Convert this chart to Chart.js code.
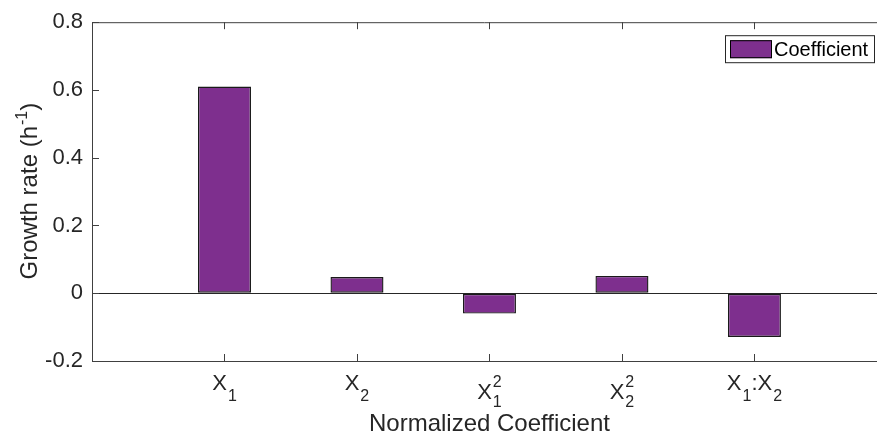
<!DOCTYPE html>
<html lang="en">
<head>
    <meta charset="UTF-8">
    <title>Normalized Coefficient</title>
    <script src="https://cdn.jsdelivr.net/npm/chart.js"></script>
    <style>
        body { margin: 0; background: #fff; }
    </style>
</head>
<body>
    <canvas id="coefChart" width="877" height="436"></canvas>

    <script>
        // categories use a small TeX-like markup: _ = subscript, ^ = superscript
        var categories = ['X_1', 'X_2', 'X_1^2', 'X_2^2', 'X_1:X_2'];
        var coefficients = [0.61, 0.048, -0.06, 0.051, -0.129];
        var yTicks = [-0.2, 0, 0.2, 0.4, 0.6, 0.8];
        var seriesName = 'Coefficient';
        var xTitle = 'Normalized Coefficient';
        var yTitle = 'Growth rate (h^{-1})';

        var textColor = '#262626';
        var axisColor = '#404040';
        var barColor = '#7E2F8E';
        var fontFamily = '"Liberation Sans", Arial, Helvetica, sans-serif';

        function drawMarkup(ctx, label, cx, baseY, size, subSize) {
            // split into pieces first so we can measure the whole label
            var pieces = [];
            var hasSup = label.indexOf('^') >= 0;
            for (var i = 0; i < label.length; i++) {
                var ch = label[i];
                if (ch === '_' || ch === '^') {
                    pieces.push({ t: label[i + 1], kind: ch === '_' ? 'sub' : 'sup' });
                    i++;
                } else {
                    pieces.push({ t: ch, kind: 'base' });
                }
            }
            var runs = [];
            var w = 0, stackStart = null, stackW = 0;
            pieces.forEach(function (p) {
                ctx.font = (p.kind === 'base' ? size : subSize) + 'px ' + fontFamily;
                var pw = ctx.measureText(p.t).width;
                if (p.kind === 'base') {
                    if (stackStart !== null) { w = stackStart + stackW; stackStart = null; }
                    runs.push({ p: p, x: w });
                    w += pw;
                } else {
                    if (stackStart === null) { stackStart = w; stackW = 0; }
                    runs.push({ p: p, x: stackStart + 1 });
                    stackW = Math.max(stackW, pw + 1);
                }
            });
            if (stackStart !== null) w = stackStart + stackW;

            var left = cx - w / 2;
            var by = hasSup ? baseY + 9 : baseY;
            ctx.textAlign = 'left';
            ctx.textBaseline = 'alphabetic';
            runs.forEach(function (r) {
                var y = by;
                if (r.p.kind === 'sub') y = by + (hasSup ? 8 : 11);
                if (r.p.kind === 'sup') y = by - 12;
                ctx.font = (r.p.kind === 'base' ? size : subSize) + 'px ' + fontFamily;
                ctx.fillText(r.p.t, left + r.x, y);
            });
        }

        var decorations = {
            id: 'decorations',
            afterDraw: function (chart) {
                var ctx = chart.ctx;
                var area = chart.chartArea;
                var xs = chart.scales.x;
                var ys = chart.scales.y;
                ctx.save();

                // box top line
                ctx.strokeStyle = axisColor;
                ctx.lineWidth = 1;
                ctx.beginPath();
                ctx.moveTo(area.left, area.top + 0.5);
                ctx.lineTo(area.right, area.top + 0.5);
                ctx.stroke();

                // inward tick marks
                ctx.beginPath();
                categories.forEach(function (c, i) {
                    var px = Math.round(xs.getPixelForValue(i + 1)) + 0.5;
                    ctx.moveTo(px, area.bottom);
                    ctx.lineTo(px, area.bottom - 7);
                    ctx.moveTo(px, area.top);
                    ctx.lineTo(px, area.top + 7);
                });
                yTicks.forEach(function (v) {
                    var py = Math.round(ys.getPixelForValue(v)) + 0.5;
                    ctx.moveTo(area.left, py);
                    ctx.lineTo(area.left + 7, py);
                });
                ctx.stroke();

                // x tick labels with sub/superscripts
                ctx.fillStyle = textColor;
                categories.forEach(function (c, i) {
                    drawMarkup(ctx, c, xs.getPixelForValue(i + 1), area.bottom + 29, 22, 16);
                });

                // x title
                ctx.font = '24px ' + fontFamily;
                ctx.textAlign = 'center';
                ctx.textBaseline = 'alphabetic';
                var midX = xs.getPixelForValue(3);
                ctx.fillText(xTitle, midX, area.bottom + 70);

                // y title, rotated, with superscript
                var main = yTitle.split('^')[0];
                var sup = yTitle.split('{')[1].split('}')[0];
                var tail = ')';
                ctx.font = '24px ' + fontFamily;
                var wMain = ctx.measureText(main).width;
                var wTail = ctx.measureText(tail).width;
                ctx.font = '16px ' + fontFamily;
                var wSup = ctx.measureText(sup).width;
                var total = wMain + wSup + wTail;
                ctx.translate(37, (area.top + area.bottom) / 2);
                ctx.rotate(-Math.PI / 2);
                ctx.textAlign = 'left';
                ctx.font = '24px ' + fontFamily;
                ctx.fillText(main, -total / 2, 0);
                ctx.font = '16px ' + fontFamily;
                ctx.fillText(sup, -total / 2 + wMain + 1, -10);
                ctx.font = '24px ' + fontFamily;
                ctx.fillText(tail, -total / 2 + wMain + wSup + 1, 0);
                ctx.setTransform(1, 0, 0, 1, 0, 0);

                // legend box
                var lx = area.right - 152, ly = area.top + 13;
                ctx.fillStyle = '#fff';
                ctx.fillRect(lx, ly, 149, 27);
                ctx.strokeStyle = '#262626';
                ctx.strokeRect(lx + 0.5, ly + 0.5, 149, 27);
                ctx.fillStyle = barColor;
                ctx.fillRect(lx + 5, ly + 5, 42, 18);
                ctx.strokeStyle = '#000';
                ctx.strokeRect(lx + 5.5, ly + 5.5, 41, 17);
                ctx.fillStyle = '#000';
                ctx.font = '20px ' + fontFamily;
                ctx.textAlign = 'left';
                ctx.textBaseline = 'middle';
                ctx.fillText(seriesName, lx + 49, ly + 15);

                ctx.restore();
            }
        };

        new Chart(document.getElementById('coefChart').getContext('2d'), {
            type: 'bar',
            data: {
                datasets: [{
                    label: seriesName,
                    data: coefficients.map(function (v, i) { return { x: i + 1, y: v }; }),
                    backgroundColor: barColor,
                    borderColor: '#1a1a1a',
                    borderWidth: 1.4,
                    borderSkipped: false,
                    barPercentage: 0.4,
                    categoryPercentage: 1
                }]
            },
            options: {
                responsive: false,
                animation: false,
                layout: { padding: { top: 21, right: 0, left: 0, bottom: 0 } },
                plugins: {
                    legend: { display: false },
                    tooltip: { enabled: false }
                },
                scales: {
                    x: {
                        type: 'linear',
                        offset: false,
                        min: 0,
                        max: 5.925,
                        afterBuildTicks: function (scale) {
                            scale.ticks = categories.map(function (c, i) { return { value: i + 1 }; });
                        },
                        afterFit: function (scale) { scale.height = 75; },
                        ticks: { display: false },
                        grid: { display: false, offset: false },
                        border: { display: true, color: axisColor, width: 1 }
                    },
                    y: {
                        min: -0.2,
                        max: 0.8,
                        afterBuildTicks: function (scale) {
                            scale.ticks = yTicks.map(function (v) { return { value: v }; });
                        },
                        afterFit: function (scale) { scale.width = 92; },
                        ticks: {
                            color: textColor,
                            padding: 9,
                            font: { family: fontFamily, size: 22 },
                            callback: function (v) { return String(+v.toFixed(1)); }
                        },
                        grid: {
                            drawTicks: false,
                            color: function (c) { return c.tick && c.tick.value === 0 ? textColor : 'rgba(0,0,0,0)'; }
                        },
                        border: { display: true, color: axisColor, width: 1 }
                    }
                }
            },
            plugins: [decorations]
        });
    </script>
</body>
</html>
